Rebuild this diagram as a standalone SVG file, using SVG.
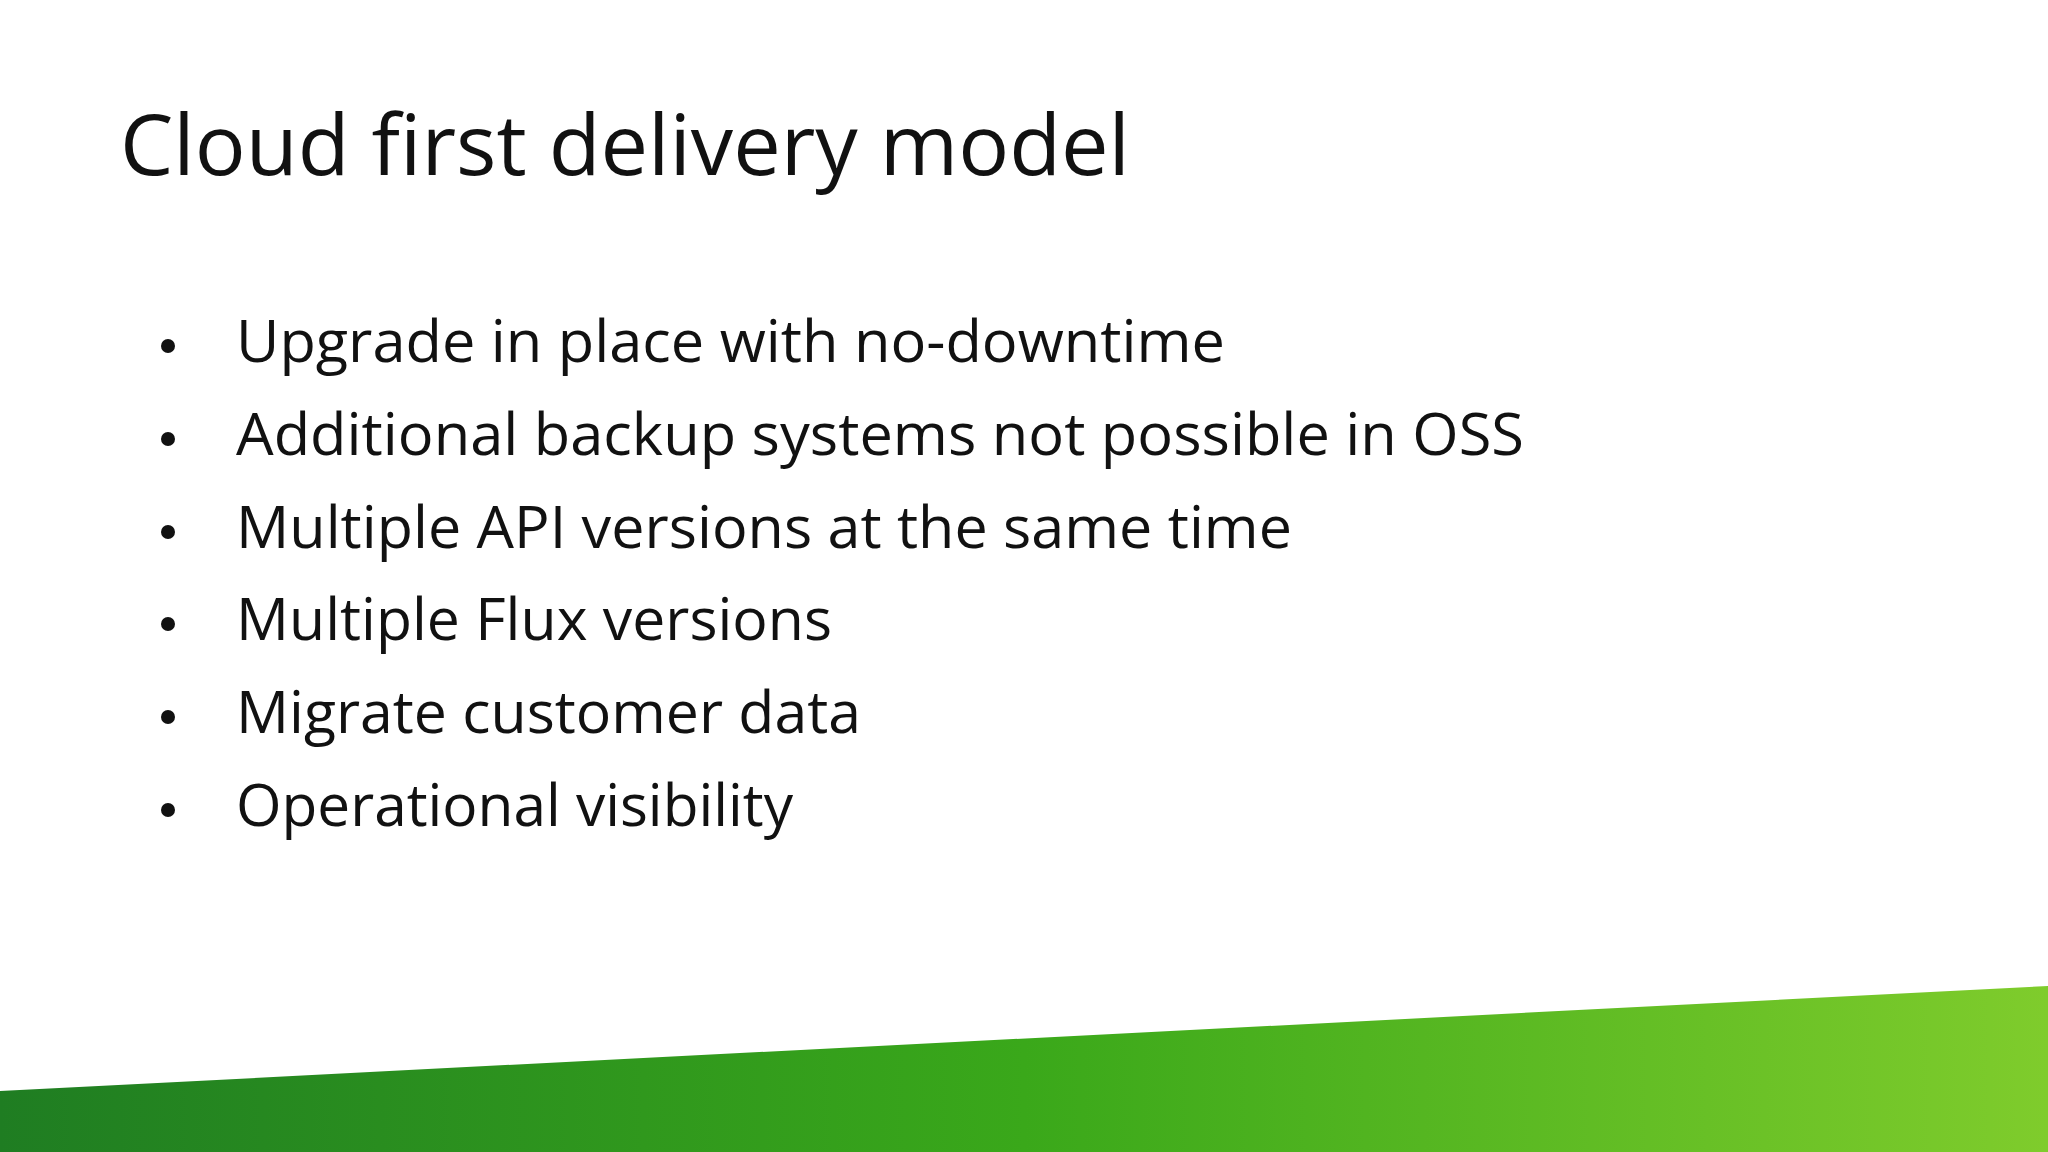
<svg xmlns="http://www.w3.org/2000/svg" width="2048" height="1152" viewBox="0 0 2048 1152">
<defs>
<style>
.t{font-family:"Open Sans","Liberation Sans",sans-serif;fill:#111}
.b{font-size:58px}
</style>
<linearGradient id="g" x1="0" y1="0" x2="1" y2="0">
<stop offset="0" stop-color="#1f7d22"/>
<stop offset="0.5" stop-color="#3aa81a"/>
<stop offset="1" stop-color="#7fcc2c"/>
</linearGradient>
</defs>
<rect width="2048" height="1152" fill="#fff"/>
<polygon points="0,1091 2048,986 2048,1152 0,1152" fill="url(#g)"/>
<text id="title" class="t" x="120" y="175" font-size="84" textLength="1010" lengthAdjust="spacingAndGlyphs">Cloud first delivery model</text>
<g id="bullets" class="t b">
<g fill="#111"><circle cx="168" cy="346" r="7"/><circle cx="168" cy="439" r="7"/><circle cx="168" cy="532" r="7"/><circle cx="168" cy="624" r="7"/><circle cx="168" cy="717" r="7"/><circle cx="168" cy="810" r="7"/></g>
<text x="236" y="362" textLength="989" lengthAdjust="spacingAndGlyphs">Upgrade in place with no-downtime</text>
<text x="236" y="455" textLength="1288" lengthAdjust="spacingAndGlyphs">Additional backup systems not possible in OSS</text>
<text x="236" y="548" textLength="1056" lengthAdjust="spacingAndGlyphs">Multiple API versions at the same time</text>
<text x="236" y="640" textLength="596" lengthAdjust="spacingAndGlyphs">Multiple Flux versions</text>
<text x="236" y="733" textLength="625" lengthAdjust="spacingAndGlyphs">Migrate customer data</text>
<text x="236" y="826" textLength="557" lengthAdjust="spacingAndGlyphs">Operational visibility</text>
</g>
</svg>
